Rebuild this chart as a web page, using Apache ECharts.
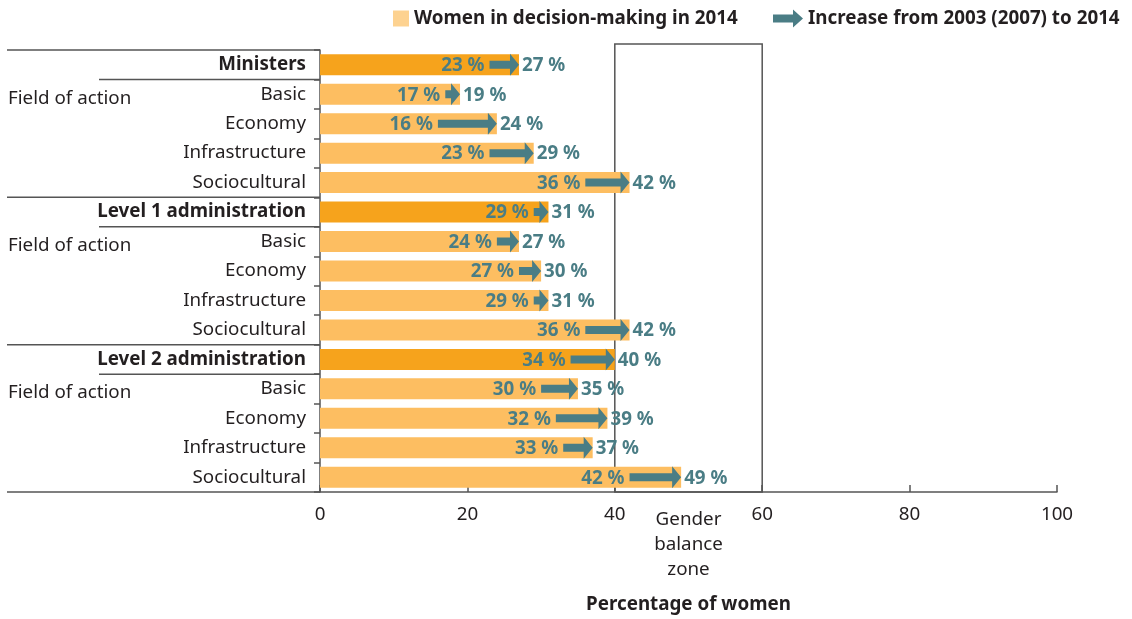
<!DOCTYPE html>
<html>
<head>
<meta charset="utf-8">
<script src="https://cdn.jsdelivr.net/npm/echarts@6/dist/echarts.min.js"></script>
<style>
html,body{margin:0;padding:0;background:#fff;}
#chart{width:1132px;height:619px;}
</style>
</head>
<body>
<div id="chart"></div>
<script>
// ---- data ----
const categories = ['Ministers', 'Basic', 'Economy', 'Infrastructure', 'Sociocultural',
  'Level 1 administration', 'Basic', 'Economy', 'Infrastructure', 'Sociocultural',
  'Level 2 administration', 'Basic', 'Economy', 'Infrastructure', 'Sociocultural'];
const isHeader = [1,0,0,0,0, 1,0,0,0,0, 1,0,0,0,0];
const startValues = [23, 17, 16, 23, 36, 29, 24, 27, 29, 36, 34, 30, 32, 33, 42];
const value2014 = [27, 19, 24, 29, 42, 31, 27, 30, 31, 42, 40, 35, 39, 37, 49];
const xTicks = [0, 20, 40, 60, 80, 100];
const balanceZone = [40, 60];
const groupLabel = 'Field of action';
const nameBar = 'Women in decision-making in 2014';
const nameArrow = 'Increase from 2003 (2007) to 2014';

// ---- styles ----
const FONT = 'Noto Sans';
const FS = 18.8;
const TXT = '#231F20';
const TEAL = '#4A7D85';
const LINE = '#555555';
const HEAD_BAR = '#F6A31C';
const FIELD_BAR = '#FDBE61';
const LEGEND_SQ = '#FDD290';

const chart = echarts.init(document.getElementById('chart'));

const arrowPath = 'path://M0,5 L20,5 L20,0 L30,9 L20,18 L20,13 L0,13 Z';

const option = {
  animation: false,
  textStyle: { fontFamily: FONT },
  grid: { left: 320, right: 75, top: 50, bottom: 123.5, containLabel: false },
  legend: [
    {
      left: 388, top: 4, itemWidth: 16, itemHeight: 16, selectedMode: false,
      textStyle: { fontFamily: FONT, fontSize: FS, fontWeight: 'bold', color: TXT },
      data: [{ name: nameBar, icon: 'rect', itemStyle: { color: LEGEND_SQ } }]
    },
    {
      left: 768, top: 4, itemWidth: 30, itemHeight: 18, selectedMode: false,
      textStyle: { fontFamily: FONT, fontSize: FS, fontWeight: 'bold', color: TXT },
      data: [{ name: nameArrow, icon: arrowPath, itemStyle: { color: TEAL } }]
    }
  ],
  xAxis: {
    type: 'value', min: xTicks[0], max: xTicks[xTicks.length - 1], interval: 20,
    axisLine: { show: true, lineStyle: { color: LINE, width: 1.5 } },
    axisTick: { show: true, inside: true, length: 7, lineStyle: { color: LINE, width: 1.5 } },
    splitLine: { show: false },
    axisLabel: { fontFamily: FONT, fontSize: FS, color: TXT, margin: 13 },
    name: 'Percentage of women', nameLocation: 'middle', nameGap: 103,
    nameTextStyle: { fontFamily: FONT, fontSize: FS, fontWeight: 'bold', color: TXT }
  },
  yAxis: {
    type: 'category', data: categories, inverse: true,
    axisLine: { show: true, lineStyle: { color: LINE, width: 1.5 } },
    axisTick: { show: true, length: 6, lineStyle: { color: LINE, width: 1.5 } },
    axisLabel: {
      margin: 14,
      formatter: (v, i) => (isHeader[i] ? '{h|' + v + '}' : '{n|' + v + '}'),
      rich: {
        h: { fontFamily: FONT, fontSize: FS, fontWeight: 'bold', color: TXT },
        n: { fontFamily: FONT, fontSize: FS, color: TXT }
      }
    }
  },
  series: [
    {
      // gender balance zone box + separators
      type: 'custom', name: 'zone', z: 1, silent: true,
      encode: { x: [0, 2], y: 1 },
      data: [[balanceZone[0], 0, balanceZone[1]]],
      renderItem: function (params, api) {
        const band = api.size([0, 1])[1];
        const pA = api.coord([api.value(0), 0]);
        const pB = api.coord([api.value(2), 0]);
        const pLast = api.coord([api.value(0), categories.length - 1]);
        const top = pA[1] - band / 2 - 6;
        const bottom = pLast[1] + band / 2;
        const children = [
          { type: 'rect', shape: { x: pA[0], y: top, width: pB[0] - pA[0], height: bottom - top },
            style: { fill: null, stroke: LINE, lineWidth: 1.5 } },
          { type: 'text', x: (pA[0] + pB[0]) / 2, y: bottom + 15,
            style: { text: 'Gender\nbalance\nzone', fontFamily: FONT, fontSize: FS, lineHeight: 25,
              fill: TXT, align: 'center', verticalAlign: 'top' } }
        ];
        const x0 = api.coord([0, 0])[0];
        // separator lines for groups
        for (let i = 0; i < categories.length; i++) {
          if (isHeader[i]) {
            const c = api.coord([0, i])[1];
            children.push({ type: 'line', shape: { x1: 7, y1: c - band / 2, x2: x0, y2: c - band / 2 },
              style: { stroke: LINE, lineWidth: 1.5 } });
            children.push({ type: 'line', shape: { x1: 99, y1: c + band / 2, x2: x0, y2: c + band / 2 },
              style: { stroke: LINE, lineWidth: 1.5 } });
            const cf = api.coord([0, i + 1])[1];
            children.push({ type: 'text', x: 8, y: cf + 4,
              style: { text: groupLabel, fontFamily: FONT, fontSize: FS, fill: TXT,
                align: 'left', verticalAlign: 'middle' } });
          }
        }
        children.push({ type: 'line', shape: { x1: 7, y1: bottom, x2: x0, y2: bottom },
          style: { stroke: LINE, lineWidth: 1.5 } });
        return { type: 'group', children: children };
      }
    },
    {
      type: 'bar', name: nameBar, z: 2, barWidth: 21,
      data: value2014.map((v, i) => ({ value: v, itemStyle: { color: isHeader[i] ? HEAD_BAR : FIELD_BAR } })),
      itemStyle: { color: FIELD_BAR }
    },
    {
      type: 'custom', name: nameArrow, z: 3,
      itemStyle: { color: TEAL },
      encode: { x: [0, 2], y: 1 },
      data: startValues.map((s, i) => [s, i, value2014[i]]),
      renderItem: function (params, api) {
        const p0 = api.coord([api.value(0), api.value(1)]);
        const p1 = api.coord([api.value(2), api.value(1)]);
        const y = p0[1], x0 = p0[0], x1 = p1[0];
        const hl = 9, hh = 11, sh = 4;
        const hx = Math.max(x0, x1 - hl);
        return {
          type: 'group',
          children: [
            { type: 'polygon', shape: { points: [[x0, y - sh], [hx, y - sh], [hx, y - hh], [x1, y], [hx, y + hh], [hx, y + sh], [x0, y + sh]] },
              style: { fill: TEAL } },
            { type: 'text', x: x0 - 5, y: y + 1,
              style: { text: api.value(0) + ' %', fontFamily: FONT, fontSize: FS, fontWeight: 'bold', fill: TEAL,
                align: 'right', verticalAlign: 'middle' } },
            { type: 'text', x: x1 + 3, y: y + 1,
              style: { text: api.value(2) + ' %', fontFamily: FONT, fontSize: FS, fontWeight: 'bold', fill: TEAL,
                align: 'left', verticalAlign: 'middle' } }
          ]
        };
      }
    }
  ]
};
chart.setOption(option);
</script>
</body>
</html>
